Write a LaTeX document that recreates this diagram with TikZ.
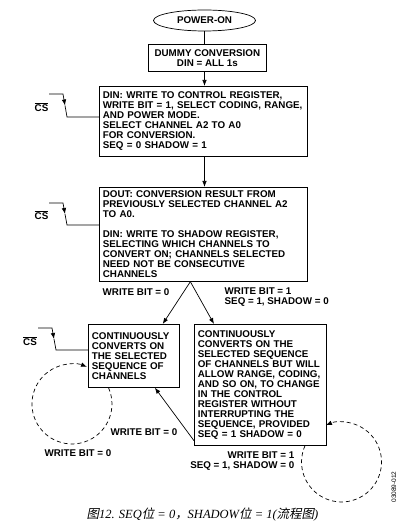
\documentclass[tikz,border=0pt]{standalone}
\usepackage{fontspec}
\setsansfont{Liberation Sans}
\newfontfamily\capfont{Liberation Serif}
\newfontfamily\cjkfont[FakeSlant=0.2]{Noto Sans CJK SC}
\usetikzlibrary{arrows.meta}
\usetikzlibrary{shapes.geometric}

\newcommand{\flowfont}{\sffamily\bfseries\fontsize{9.8}{10}\selectfont}
\newcommand{\csbar}{\vbox{\hrule height 0.6pt\kern1.2pt\hbox{\flowfont CS}}}

\begin{document}
\begin{tikzpicture}[x=1pt,y=1pt,>={Latex[length=6pt,width=4.5pt]},line width=0.7pt,
  every node/.style={font=\flowfont},
  flowbox/.style={draw,anchor=north west,align=left,inner xsep=3.5pt,inner ysep=0pt},
  loopline/.style={dash pattern=on 4pt off 3pt}]
  \useasboundingbox (0,0) rectangle (420,525) ;
  \fill[white] (0,0) rectangle (420,525) ;

  \node[draw,ellipse,minimum width=102pt,minimum height=21pt,inner sep=0pt] (pwr) at (204.5,504.5) {POWER-ON};
  \node[draw,anchor=north west,align=center,minimum width=118pt,minimum height=27pt,inner sep=0pt] (dummy) at (148,481) {DUMMY CONVERSION\\DIN = ALL 1s};

  \node[flowbox,text width=201pt,minimum height=70pt] (ctrl) at (99,439)
    {DIN: WRITE TO CONTROL REGISTER,\\WRITE BIT = 1, SELECT CODING, RANGE,\\AND POWER MODE.\\SELECT CHANNEL A2 TO A0\\FOR CONVERSION.\\SEQ = 0 SHADOW = 1};
  \node[flowbox,text width=201pt,minimum height=94pt] (shadow) at (99,338)
    {DOUT: CONVERSION RESULT FROM\\PREVIOUSLY SELECTED CHANNEL A2\\TO A0.\\[10pt]DIN: WRITE TO SHADOW REGISTER,\\SELECTING WHICH CHANNELS TO\\CONVERT ON; CHANNELS SELECTED\\NEED NOT BE CONSECUTIVE\\CHANNELS};
  \node[flowbox,text width=84pt,minimum height=63pt] (cont) at (88,201)
    {CONTINUOUSLY\\CONVERTS ON\\THE SELECTED\\SEQUENCE OF\\CHANNELS};
  \node[flowbox,text width=125pt,minimum height=121pt] (seq) at (194,201)
    {CONTINUOUSLY\\CONVERTS ON THE\\SELECTED SEQUENCE\\OF CHANNELS BUT WILL\\ALLOW RANGE, CODING,\\AND SO ON, TO CHANGE\\IN THE CONTROL\\REGISTER WITHOUT\\INTERRUPTING THE\\SEQUENCE, PROVIDED\\SEQ = 1 SHADOW = 0};

  \draw (pwr.south) -- (pwr.south |- dummy.north) ;
  \draw[->] (dummy.south -| pwr.south) -- (ctrl.north -| pwr.south) ;
  \draw[->] (ctrl.south -| pwr.south) -- (shadow.north -| pwr.south) ;

  \coordinate (split) at ([xshift=-13pt]shadow.south) ;
  \draw[->] (split) -- ([xshift=-17pt]cont.north east) ;
  \draw[->] (split) -- ([xshift=20pt]seq.north west) ;
  \draw[->] ([yshift=5pt]seq.south west) -- ([xshift=21pt]cont.south) ;

  \node[anchor=west] (wbit0) at (99,233) {WRITE BIT = 0};
  \node[anchor=west,align=left] (wbit1) at (221,228) {WRITE BIT = 1\\SEQ = 1, SHADOW = 0};
  \node[anchor=east] (wback) at (181,93) {WRITE BIT = 0};
  \node (wloop0) at (78,72) {WRITE BIT = 0};
  \node[anchor=east,align=right] (wloop1) at (298,63.5) {WRITE BIT = 1\\SEQ = 1, SHADOW = 0};

  \draw[loopline,->] ([xshift=20.5pt]cont.south west) arc[start angle=24,end angle=-292,radius=40pt] ;
  \draw[loopline,->] ([xshift=111pt]seq.south west) arc[start angle=156,end angle=473,radius=40pt] ;

  \coordinate (cs1) at (49,431) ;
  \draw[->] (cs1) -- (63,431) -- (65,419.5) ;
  \draw (65,419.5) -- (67,408) -- (ctrl.west |- 67,408) ;
  \node (cslabel1) at (41.5,418) {\csbar};

  \coordinate (cs2) at (49,322) ;
  \draw[->] (cs2) -- (63,322) -- (65,311) ;
  \draw (65,311) -- (67,300) -- (shadow.west |- 67,300) ;
  \node (cslabel2) at (41.5,309.5) {\csbar};

  \coordinate (cs3) at (38,197) ;
  \draw[->] (cs3) -- (52,197) -- (54,186) ;
  \draw (54,186) -- (56,175) -- (cont.west |- 56,175) ;
  \node (cslabel3) at (30,183.5) {\csbar};

  \node[rotate=90,font=\sffamily\fontsize{6.5}{6.5}\selectfont] (figno) at (394,38) {03089-012};
  \node[font=\capfont\itshape\fontsize{12.5}{14}\selectfont] (caption) at (202.5,10)
    {{\cjkfont\upshape 图}12. SEQ{\cjkfont\upshape 位} = 0{\cjkfont\upshape ，}SHADOW{\cjkfont\upshape 位} = 1({\cjkfont\upshape 流程图})};

\end{tikzpicture}
\end{document}
